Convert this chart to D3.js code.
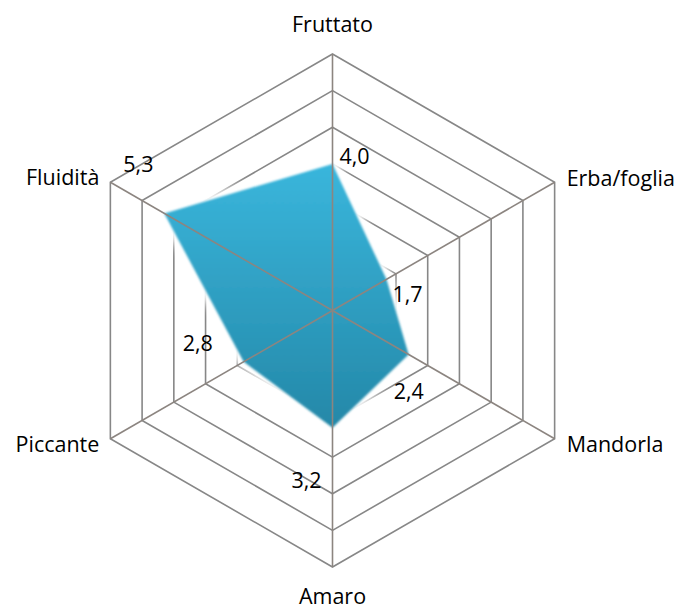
<!DOCTYPE html>
<html><head><meta charset="utf-8">
<script src="https://cdn.jsdelivr.net/npm/d3@7"></script>
<style>body{margin:0;background:#fff;} text{font-family:"Open Sans",sans-serif;fill:#000;}</style>
</head><body>
<svg id="chart" width="687" height="605"></svg>
<script>
const categories = ["Fruttato","Erba/foglia","Mandorla","Amaro","Piccante","Fluidità"];
const values = [4.0, 1.7, 2.4, 3.2, 2.8, 5.3];
const valueLabels = ["4,0","1,7","2,4","3,2","2,8","5,3"];
const ringTicks = [1,2,3,4,5,6,7];

const svg = d3.select("#chart");
const cx = 332.5, cy = 310.5, R = 256.5;
const r = d3.scaleLinear().domain([0,7]).range([0,R]);
const angle = i => i * 2*Math.PI/categories.length;
const pt = (i, v) => [cx + r(v)*Math.sin(angle(i)), cy - r(v)*Math.cos(angle(i))];

const defs = svg.append("defs");
const grad = defs.append("linearGradient").attr("id","fillg").attr("x1",0).attr("y1",0).attr("x2",0).attr("y2",1);
grad.append("stop").attr("offset","0%").attr("stop-color","#3ab6dc");
grad.append("stop").attr("offset","100%").attr("stop-color","#2488a8");
const blur = defs.append("filter").attr("id","glow").attr("x","-20%").attr("y","-20%").attr("width","140%").attr("height","140%");
blur.append("feGaussianBlur").attr("stdDeviation",3);
const soft = defs.append("filter").attr("id","soft");
soft.append("feGaussianBlur").attr("stdDeviation",0.8);

const line = d3.line();
ringTicks.forEach(t => {
  const pts = categories.map((c,i) => pt(i,t));
  svg.append("path").attr("d", line(pts)+"Z").attr("fill","none")
     .attr("stroke","#878787").attr("stroke-width",1.6);
});

const areaPts = values.map((v,i) => pt(i,v));
svg.append("path").attr("d", line(areaPts)+"Z").attr("fill","#fff")
   .attr("stroke","#fff").attr("stroke-width",12).attr("stroke-linejoin","round")
   .attr("filter","url(#glow)");
svg.append("path").attr("d", line(areaPts)+"Z").attr("fill","url(#fillg)")
   .attr("filter","url(#soft)");

categories.forEach((c,i) => {
  const [x,y] = pt(i,7);
  svg.append("line").attr("x1",cx).attr("y1",cy).attr("x2",x).attr("y2",y)
     .attr("stroke","#8c8580").attr("stroke-width",1.6);
});

const catPos = [
  {dx:0, dy:-22, anchor:"middle"},
  {dx:12, dy:4, anchor:"start"},
  {dx:12, dy:13, anchor:"start"},
  {dx:0, dy:37, anchor:"middle"},
  {dx:-11, dy:13, anchor:"end"},
  {dx:-11, dy:3, anchor:"end"}
];
categories.forEach((c,i) => {
  const [x,y] = pt(i,7);
  svg.append("text").attr("x",x+catPos[i].dx).attr("y",y+catPos[i].dy)
     .attr("text-anchor",catPos[i].anchor).attr("font-size",21.5).text(c);
});

const lblOff = [[7,0],[6,23],[-15,45],[-41,60],[-61,-11],[-41,-41]];
values.forEach((v,i) => {
  const [x,y] = pt(i,v);
  svg.append("text").attr("x",x+lblOff[i][0]).attr("y",y+lblOff[i][1])
     .attr("font-size",21.5).text(valueLabels[i]);
});
</script>
</body></html>
